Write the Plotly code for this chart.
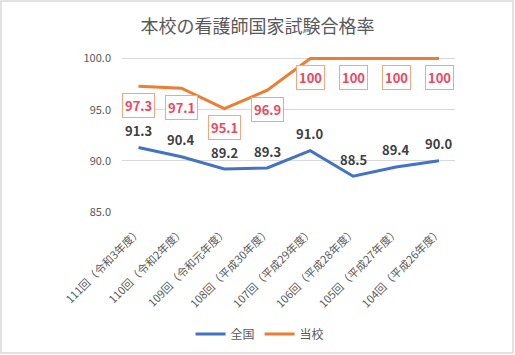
import plotly.graph_objects as go

categories = ["111回（令和3年度）", "110回（令和2年度）", "109回（令和元年度）", "108回（平成30年度）",
              "107回（平成29年度）", "106回（平成28年度）", "105回（平成27年度）", "104回（平成26年度）"]
national = [91.3, 90.4, 89.2, 89.3, 91.0, 88.5, 89.4, 90.0]
school = [97.3, 97.1, 95.1, 96.9, 100, 100, 100, 100]
national_labels = ["91.3", "90.4", "89.2", "89.3", "91.0", "88.5", "89.4", "90.0"]
school_labels = ["97.3", "97.1", "95.1", "96.9", "100", "100", "100", "100"]
yticks = [85, 90, 95, 100]

W, H = 515, 355
ML, MR, MT, MB = 122, 60, 57, 143
FONT = "Noto Sans CJK JP"

fig = go.Figure()
fig.add_trace(go.Scatter(x=categories, y=national, mode="lines", name="全国",
                         line=dict(color="#4472C4", width=3)))
fig.add_trace(go.Scatter(x=categories, y=school, mode="lines", name="当校",
                         line=dict(color="#ED7D31", width=3)))

annotations = []
for c, v, t in zip(categories, national, national_labels):
    annotations.append(dict(x=c, y=v, xref="x", yref="y", text=t, showarrow=False,
                            yshift=17, font=dict(family=FONT, size=13, color="#404040", weight="bold")))
for c, v, t in zip(categories, school, school_labels):
    annotations.append(dict(x=c, y=v, xref="x", yref="y", text=t, showarrow=False,
                            yshift=-19, bgcolor="white", bordercolor="#F4A77E", borderwidth=1,
                            borderpad=2,
                            font=dict(family=FONT, size=13, color="#F2465E", weight="bold")))

pw = W - ML - MR
ph = H - MT - MB
fig.update_layout(
    width=W, height=H, autosize=False,
    margin=dict(l=ML, r=MR, t=MT, b=MB, autoexpand=False),
    paper_bgcolor="white", plot_bgcolor="white",
    font=dict(family=FONT, color="#595959"),
    title=dict(text="本校の看護師国家試験合格率", x=0.5, xref="container", xanchor="center",
               y=1 - 27 / H, yref="container", yanchor="middle",
               font=dict(family=FONT, size=18, color="#595959")),
    showlegend=True,
    legend=dict(orientation="h", x=0.505, xref="container", xanchor="center",
                y=1 - 334 / H, yref="container", yanchor="middle", itemwidth=30,
                font=dict(family=FONT, size=12, color="#595959")),
    annotations=annotations,
    shapes=[dict(type="rect", xref="paper", yref="paper",
                 x0=(1 - ML) / pw, x1=(W - 2 - ML) / pw,
                 y0=-(H - 2 - MT - ph) / ph, y1=1 + (MT - 1) / ph,
                 line=dict(color="#D9D9D9", width=1.5))],
)
fig.update_xaxes(tickangle=-45, tickfont=dict(family=FONT, size=11, color="#595959"),
                 showgrid=False, showline=False, zeroline=False, ticks="", ticklabelstandoff=10,
                 automargin=False)
fig.update_yaxes(range=[85, 100.15], tickvals=yticks, tickformat=".1f",
                 tickfont=dict(family=FONT, size=11, color="#595959"),
                 showgrid=True, gridcolor="#D9D9D9", gridwidth=1, zeroline=False, showline=False,
                 ticks="", ticklabelstandoff=10, automargin=False)

fig.write_html("out.html", config={"displayModeBar": False},
               post_script="document.body.style.margin='0';document.body.style.overflow='hidden';")
